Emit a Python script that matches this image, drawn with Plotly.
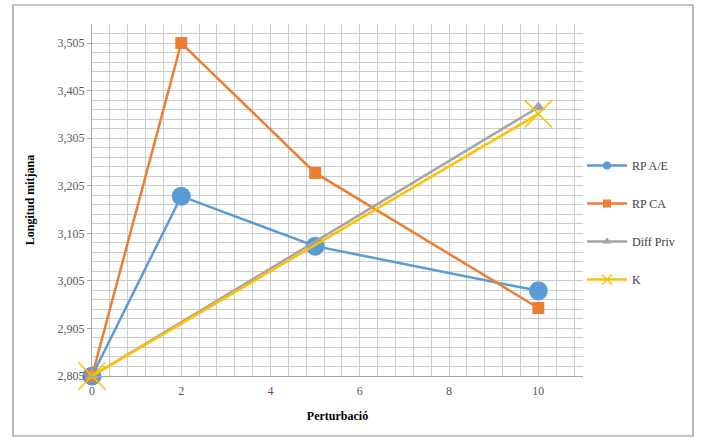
import plotly.graph_objects as go

series_names = ["RP A/E", "RP CA", "Diff Priv", "K"]
x_four = [0, 2, 5, 10]
x_two = [0, 10]
rp_ae = [2.805, 3.183, 3.078, 2.984]
rp_ca = [2.805, 3.505, 3.232, 2.948]
diff_priv = [2.805, 3.370]
k_vals = [2.805, 3.356]
x_ticks = [0, 2, 4, 6, 8, 10]
y_ticks = [2.805, 2.905, 3.005, 3.105, 3.205, 3.305, 3.405, 3.505]

colors = ["#5B9BD5", "#ED7D31", "#A5A5A5", "#FFC000"]
font_family = "Liberation Serif"

xs = [x_four, x_four, x_two, x_two]
ys = [rp_ae, rp_ca, diff_priv, k_vals]
symbols = ["circle", "square", "triangle-up", "x-thin-open"]
sizes = [19, 12, 12, 27]
legend_sizes = [8, 8, 8, 10]

fig = go.Figure()
for i in range(4):
    mk = dict(symbol=symbols[i], size=sizes[i], color=colors[i])
    if symbols[i] == "x-thin-open":
        mk["line"] = dict(color=colors[i], width=1.5)
    fig.add_trace(go.Scatter(x=xs[i], y=ys[i], name=series_names[i], mode="lines+markers",
                             line=dict(color=colors[i], width=2.5), marker=mk,
                             showlegend=False, cliponaxis=False))
for i in range(4):
    lmk = dict(symbol=symbols[i], size=legend_sizes[i], color=colors[i])
    if symbols[i] == "x-thin-open":
        lmk["line"] = dict(color=colors[i], width=1.5)
    fig.add_trace(go.Scatter(x=[None], y=[None], name=series_names[i], mode="lines+markers",
                             line=dict(color=colors[i], width=2.5), marker=lmk,
                             legendgroup="g%d" % i, showlegend=True))

grid_color = "#CCCCCC"
fig.update_layout(
    width=702, height=437,
    margin=dict(l=92, r=119, t=24, b=61),
    paper_bgcolor="white", plot_bgcolor="white",
    separators=",.",
    font=dict(family=font_family, size=12, color="#595959"),
    showlegend=True,
    legend=dict(x=(582 - 92) / 491, y=(376 - 151) / 352, xanchor="left", yanchor="top",
                tracegroupgap=19, traceorder="grouped", itemsizing="trace", itemwidth=40,
                font=dict(family=font_family, size=12, color="#404040"),
                bgcolor="rgba(0,0,0,0)"),
    xaxis=dict(range=[0, 11], tickvals=x_ticks, ticktext=[str(v) for v in x_ticks],
               showgrid=True, gridcolor=grid_color, gridwidth=1,
               minor=dict(dtick=0.4, tick0=0, showgrid=True, gridcolor=grid_color, gridwidth=1),
               showline=True, linecolor="#A6A6A6", linewidth=1, zeroline=False,
               ticks="", ticklabelstandoff=4,
               title=dict(text="<b>Perturbació</b>", font=dict(family=font_family, size=12, color="#000000"), standoff=14)),
    yaxis=dict(range=[2.805, 3.545], tickvals=y_ticks, tickformat=".3f",
               showgrid=True, gridcolor=grid_color, gridwidth=1,
               minor=dict(dtick=0.02, tick0=2.805, showgrid=True, gridcolor=grid_color, gridwidth=1),
               showline=True, linecolor="#A6A6A6", linewidth=1, zeroline=False,
               ticks="outside", ticklen=4, tickcolor="#A6A6A6",
               title=dict(text="<b>Longitud mitjana</b>", font=dict(family=font_family, size=12, color="#000000"), standoff=20)),
    shapes=[dict(type="rect", xref="paper", yref="paper",
                 x0=(13 - 92) / 491, x1=(693 - 92) / 491,
                 y0=(376 - 436) / 352, y1=(376 - 5) / 352,
                 line=dict(color="#8C8C8C", width=1.2), fillcolor="rgba(0,0,0,0)", layer="above")],
)

fig.write_html("out.html", config={"displayModeBar": False},
               post_script="document.body.style.margin='0';document.body.style.overflow='hidden';")
